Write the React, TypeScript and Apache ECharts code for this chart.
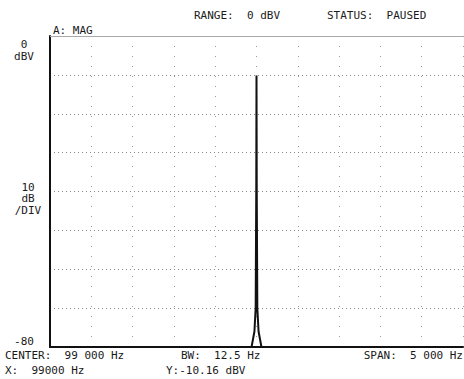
import React, { useEffect, useRef } from "react";
import * as echarts from "echarts";

const freqHz = [96500, 98700, 98940, 98975, 98990, 98997, 99000, 99003, 99010, 99025, 99060, 99300, 101500];
const magDbv = [-80, -80, -80, -76, -70, -40, -10.16, -40, -70, -76, -80, -80, -80];
const yLabelsTop = ["0", "dBV"];
const yLabelsMid = ["10", "dB", "/DIV"];
const yLabelBottom = "-80";
const headerTexts = ["A: MAG", "RANGE:  0 dBV", "STATUS:  PAUSED"];
const footerTexts = ["CENTER:  99 000 Hz", "BW:  12.5 Hz", "SPAN:  5 000 Hz", "X:  99000 Hz", "Y:-10.16 dBV"];
const topRef = 0;

export default function App() {
  const ref = useRef<HTMLDivElement>(null);
  useEffect(() => {
    document.body.style.margin = "0";
    const chart = echarts.init(ref.current!, null, { renderer: "svg" });
    const font = { fontFamily: "DejaVu Sans Mono", fontSize: 11, fill: "#1a1a1a" };
    const txt = (text: string, x: number, y: number, align = "left", lineHeight = 12) => ({
      type: "text",
      x,
      y,
      style: { text, ...font, lineHeight, textAlign: align, textVerticalAlign: "middle" },
    });
    chart.setOption({
      animation: false,
      backgroundColor: "#fff",
      grid: { left: 50, right: 1, top: 36, bottom: 32 },
      xAxis: {
        type: "value",
        min: 96500,
        max: 101500,
        interval: 500,
        axisLabel: { show: false },
        axisTick: { show: false },
        axisLine: { show: true, onZero: false, lineStyle: { color: "#111", width: 2 } },
        splitLine: { show: true, lineStyle: { color: "#999", width: 1, type: [1, 9] } },
      },
      yAxis: {
        type: "value",
        min: -80,
        max: 0,
        interval: 10,
        axisLabel: { show: false },
        axisTick: { show: false },
        axisLine: { show: true, onZero: false, lineStyle: { color: "#111", width: 2 } },
        splitLine: { show: true, lineStyle: { color: "#888", width: 1, type: [1, 3] } },
      },
      series: [
        {
          type: "line",
          data: freqHz.map((f, i) => [f, magDbv[i]]),
          showSymbol: false,
          lineStyle: { color: "#111", width: 2 },
          z: 5,
          markLine: {
            silent: true,
            symbol: "none",
            label: { show: false },
            lineStyle: { color: "#aaa", width: 1, type: "solid" },
            data: [{ yAxis: topRef }],
          },
        },
      ],
      graphic: [
        txt(headerTexts[0], 53, 30),
        txt(headerTexts[1], 194, 15),
        txt(headerTexts[2], 327, 15),
        txt(yLabelsTop.join("\n"), 24, 50, "center", 12),
        txt(yLabelsMid.join("\n"), 28, 198.5, "center", 11.5),
        txt(yLabelBottom, 24, 341, "center"),
        txt(footerTexts[0], 5, 355),
        txt(footerTexts[1], 181, 355),
        txt(footerTexts[2], 463, 355, "right"),
        txt(footerTexts[3], 5, 370),
        txt(footerTexts[4], 166, 370),
      ],
    });
    return () => chart.dispose();
  }, []);
  return <div ref={ref} style={{ position: "fixed", left: 0, top: 0, width: 464, height: 379 }} />;
}
